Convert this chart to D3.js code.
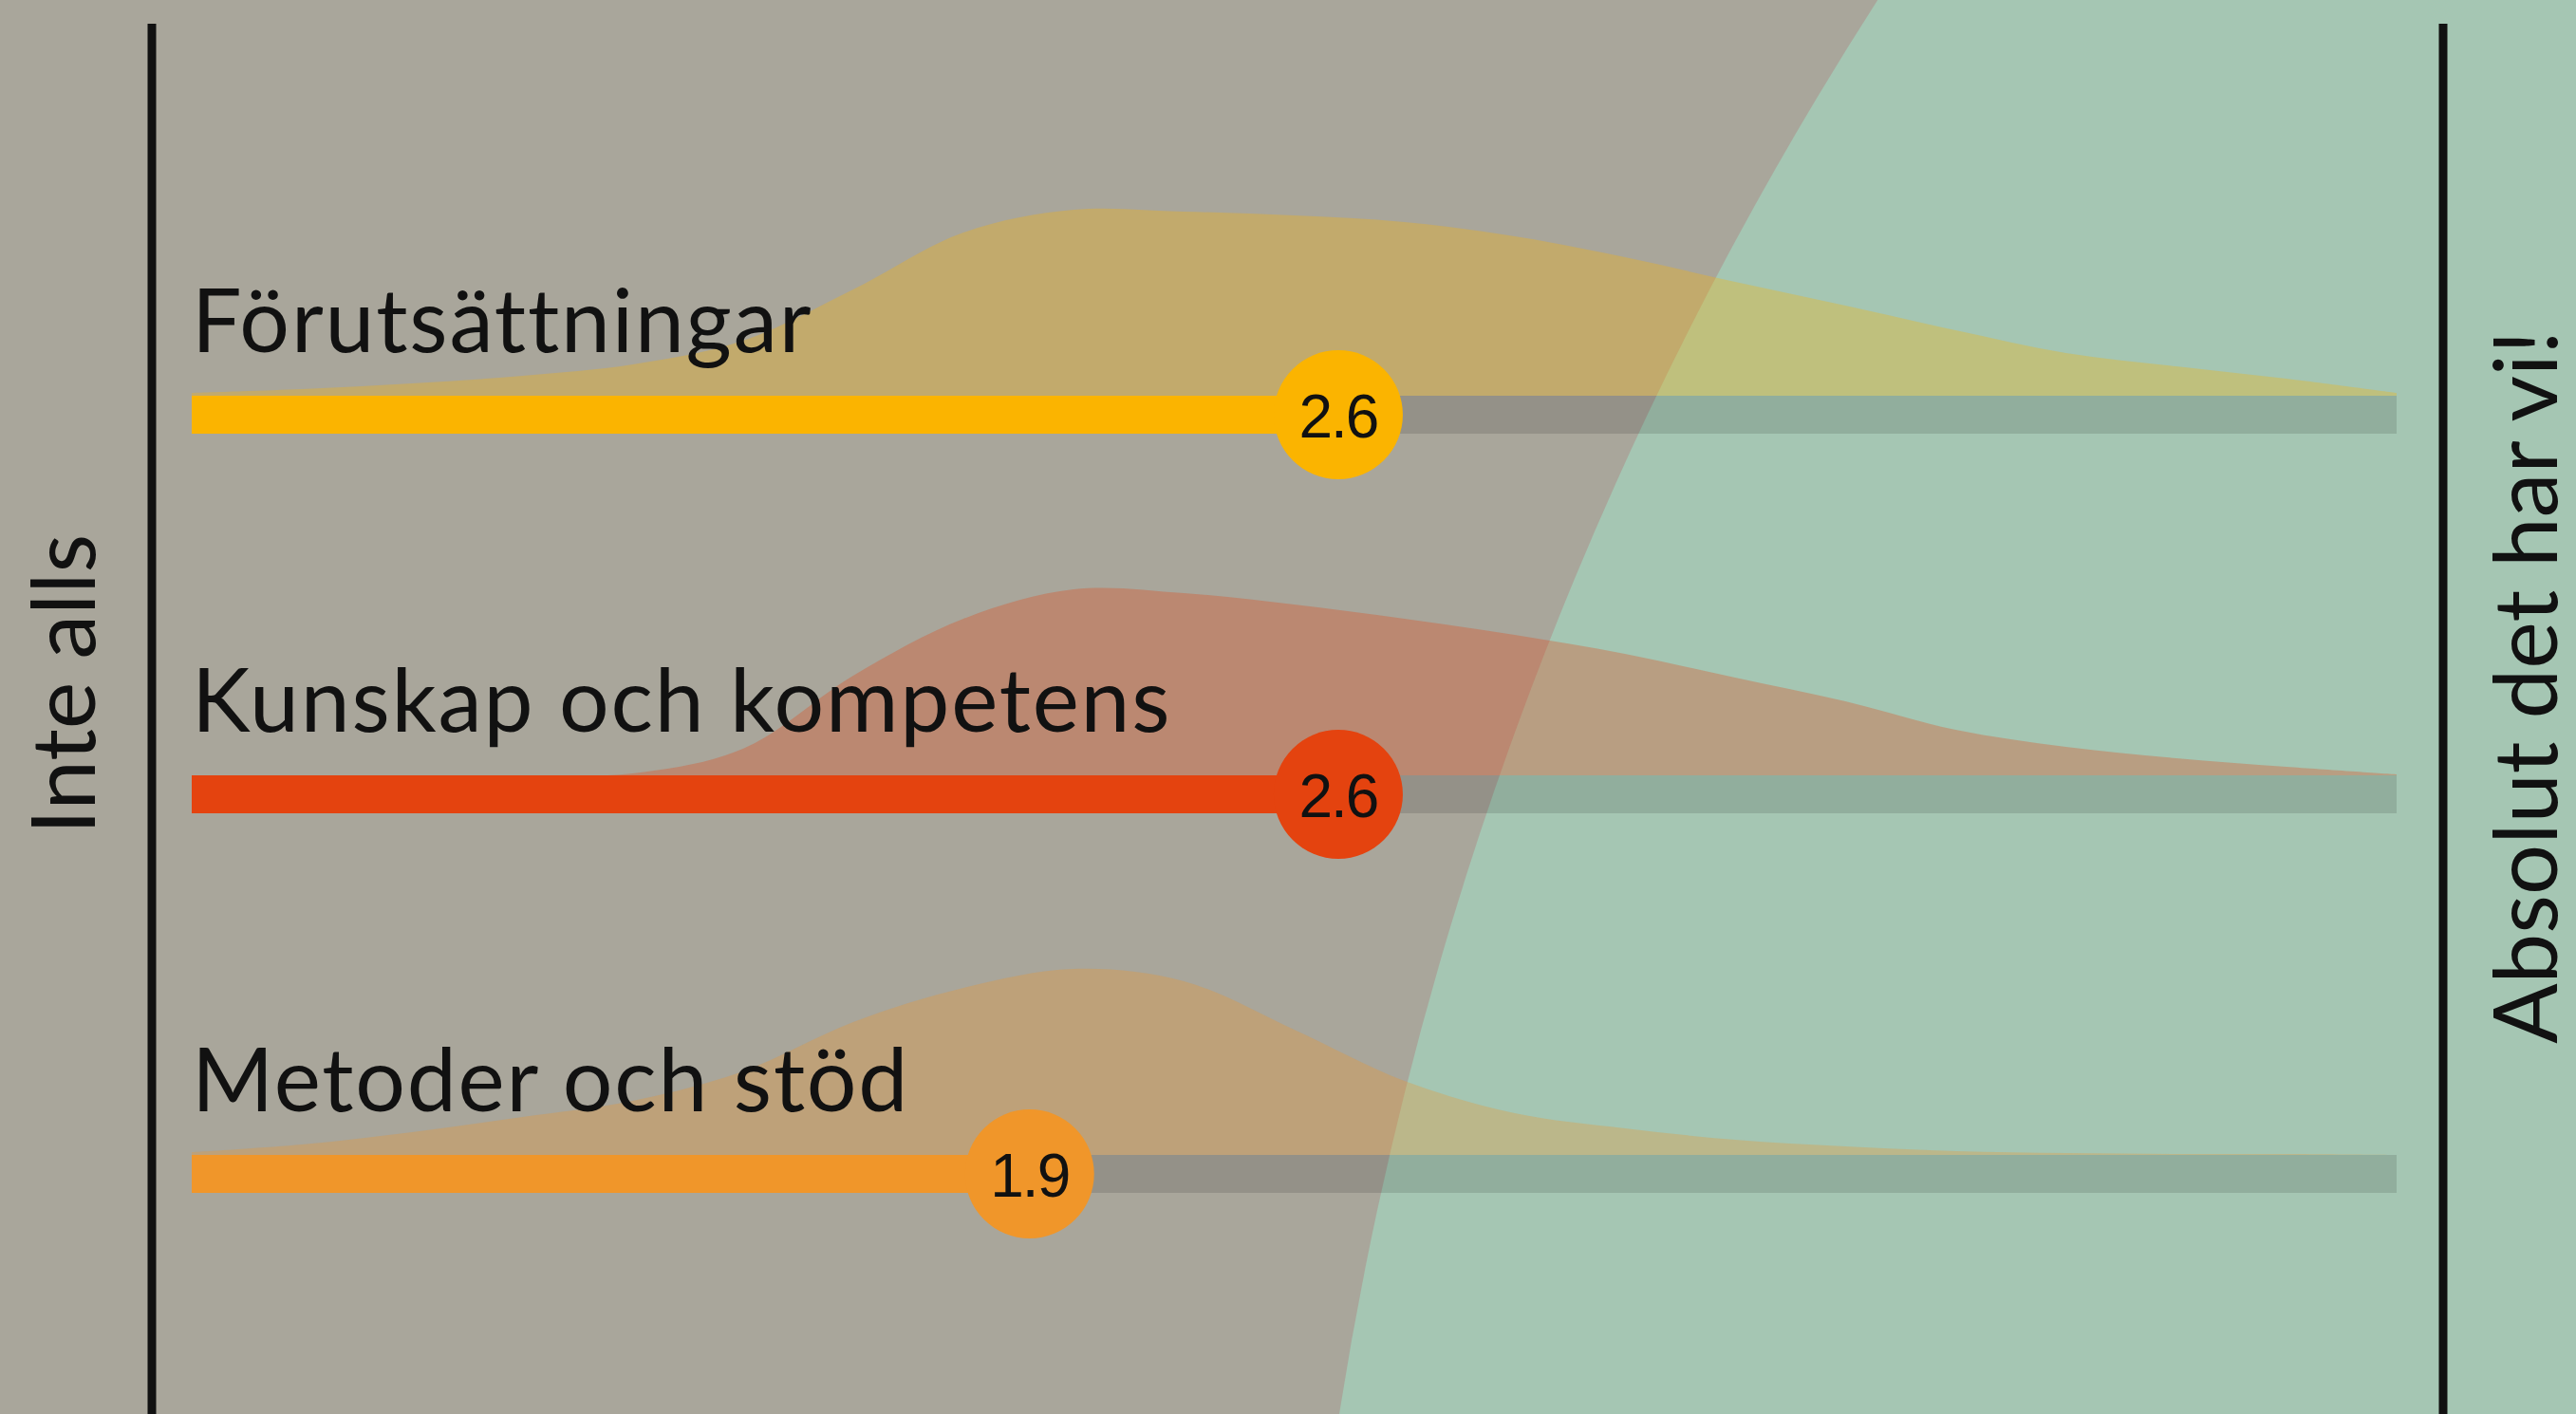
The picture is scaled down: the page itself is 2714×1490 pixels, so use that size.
<!DOCTYPE html>
<html>
<head>
<meta charset="utf-8">
<script src="https://cdn.jsdelivr.net/npm/d3@7"></script>
<style>
  body { margin: 0; background: #a9a69b; }
  svg { display: block; }
</style>
</head>
<body>
<svg id="chart"></svg>
<script>
const categories = ["Förutsättningar", "Kunskap och kompetens", "Metoder och stöd"];
const means = [2.6, 2.6, 1.9];
const barColors = ["#fbb400", "#e4430f", "#f0962a"];
const scaleLabels = ["Inte alls", "Absolut det har vi!"];

const densitySteps = [0, 0.25, 0.5, 0.75, 1, 1.25, 1.5, 1.75, 2, 2.25, 2.5, 2.75, 3, 3.25, 3.5, 3.75, 4, 4.25, 4.5, 4.75, 5];
const densityForutsattningar = [0.015, 0.035, 0.065, 0.105, 0.165, 0.29, 0.56, 0.86, 0.98, 0.97, 0.95, 0.915, 0.84, 0.73, 0.6, 0.475, 0.345, 0.225, 0.155, 0.09, 0.015];
const densityKunskap = [0, 0, 0, 0, 0.01, 0.14, 0.525, 0.825, 0.98, 0.96, 0.9, 0.825, 0.74, 0.64, 0.515, 0.39, 0.24, 0.15, 0.09, 0.045, 0.005];
const densityMetoder = [0.015, 0.055, 0.12, 0.2, 0.285, 0.44, 0.7, 0.88, 0.98, 0.915, 0.66, 0.39, 0.22, 0.14, 0.08, 0.045, 0.02, 0.01, 0.005, 0.005, 0];
const densities = [densityForutsattningar, densityKunskap, densityMetoder];

const width = 2714;
const height = 1490;
const barHeight = 40;
const dotRadius = 68;

const svg = d3.select("#chart")
  .attr("width", width)
  .attr("height", height);

const xScale = d3.scaleLinear()
  .domain([0, 5])
  .range([202, 2525]);

const yScale = d3.scalePoint()
  .domain(categories)
  .range([437, 1237]);

const hScale = d3.scaleLinear()
  .domain([0, 1])
  .range([0, 200]);

// green "good" zone in the background
svg.append("circle")
  .attr("cx", 5230)
  .attr("cy", 2091)
  .attr("r", 3866)
  .attr("fill", "#a5c6b3");

const rows = categories.map((c, i) => ({
  name: c,
  mean: means[i],
  color: barColors[i],
  density: densitySteps.map((s, j) => ({ step: s, value: densities[i][j] }))
}));

rows.forEach(row => {
  const base = yScale(row.name) - barHeight / 2;

  const area = d3.area()
    .x(d => xScale(d.step))
    .y0(base)
    .y1(d => Math.min(base, base - hScale(d.value)))
    .curve(d3.curveCatmullRom.alpha(0.5));

  svg.append("path")
    .datum(row.density)
    .attr("d", area)
    .attr("fill", row.color)
    .attr("fill-opacity", 0.3);
});

// track, bar, dot
const g = svg.selectAll(".row")
  .data(rows)
  .enter().append("g")
  .attr("class", "row");

g.append("rect")
  .attr("x", xScale(0))
  .attr("y", d => yScale(d.name) - barHeight / 2)
  .attr("width", xScale(5) - xScale(0))
  .attr("height", barHeight)
  .attr("fill", "#000")
  .attr("fill-opacity", 0.12);

g.append("rect")
  .attr("x", xScale(0))
  .attr("y", d => yScale(d.name) - barHeight / 2)
  .attr("width", d => xScale(d.mean) - xScale(0))
  .attr("height", barHeight)
  .attr("fill", d => d.color);

g.append("circle")
  .attr("cx", d => xScale(d.mean))
  .attr("cy", d => yScale(d.name))
  .attr("r", dotRadius)
  .attr("fill", d => d.color);

g.append("text")
  .attr("x", d => xScale(d.mean))
  .attr("y", d => yScale(d.name))
  .attr("dy", "0.37em")
  .attr("text-anchor", "middle")
  .style("font-family", "'Liberation Sans', Arial, sans-serif")
  .style("font-size", "64px")
  .style("letter-spacing", "-2px")
  .attr("fill", "#111")
  .text(d => d.mean.toFixed(1));

g.append("text")
  .attr("x", xScale(0))
  .attr("y", d => yScale(d.name) - barHeight / 2 - 46)
  .style("font-family", "Lato, sans-serif")
  .style("font-size", "93px")
  .style("letter-spacing", "1.8px")
  .attr("fill", "#111")
  .text(d => d.name);

// end lines of the scale
svg.selectAll(".edge")
  .data([160, 2574])
  .enter().append("line")
  .attr("class", "edge")
  .attr("x1", d => d)
  .attr("x2", d => d)
  .attr("y1", 25)
  .attr("y2", height)
  .attr("stroke", "#111")
  .attr("stroke-width", 9);

svg.selectAll(".end-label")
  .data(scaleLabels)
  .enter().append("text")
  .attr("class", "end-label")
  .attr("transform", (d, i) => i === 0 ? "translate(100,721) rotate(-90)" : "translate(2694,724) rotate(-90)")
  .attr("text-anchor", "middle")
  .style("font-family", "Lato, sans-serif")
  .style("font-size", "94px")
  .attr("fill", "#111")
  .text(d => d);
</script>
</body>
</html>
